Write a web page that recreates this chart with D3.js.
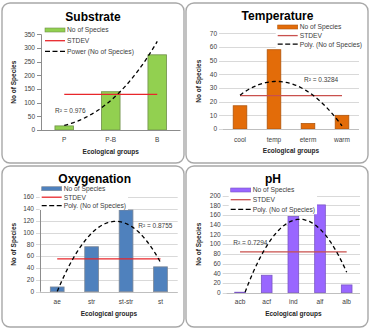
<!DOCTYPE html>
<html>
<head>
<meta charset="utf-8">
<script src="https://cdn.jsdelivr.net/npm/d3@7"></script>
<style>
  body { margin: 0; background: #fff; }
  svg { display: block; font-family: "Liberation Sans", Arial, sans-serif; }
</style>
</head>
<body>
<div id="chart"></div>
<script>
// --- Data ---
const substrateGroups = ["P", "P-B", "B"];
const substrateCounts = [15, 140, 275];

const temperatureGroups = ["cool", "temp", "eterm", "warm"];
const temperatureCounts = [17, 58, 4, 10];

const oxygenGroups = ["ae", "str", "st-str", "st"];
const oxygenCounts = [8, 76, 138, 42];

const phGroups = ["acb", "acf", "ind", "alf", "alb"];
const phCounts = [1, 36, 157, 181, 16];

const r2Labels = ["R² = 0.976", "R² = 0.3284", "R² = 0.8755", "R² = 0.7294"];
const trendNames = ["Power (No of Species)", "Poly. (No of Species)", "Poly. (No of Species)", "Poly. (No of Species)"];

// --- Helpers ---
function sampleStdev(v) {
    const m = d3.mean(v);
    return Math.sqrt(d3.sum(v, d => (d - m) ** 2) / (v.length - 1));
}

// least squares y = c0 + c1 x + c2 x^2, x = 1..n
function quadFit(v) {
    const xs = v.map((d, i) => i + 1);
    const S = k => d3.sum(xs, x => x ** k);
    const T = k => d3.sum(xs, (x, i) => v[i] * x ** k);
    const A = [[S(0), S(1), S(2)], [S(1), S(2), S(3)], [S(2), S(3), S(4)]];
    const b = [T(0), T(1), T(2)];
    // gaussian elimination
    for (let i = 0; i < 3; i++) {
        for (let j = i + 1; j < 3; j++) {
            const f = A[j][i] / A[i][i];
            for (let k = i; k < 3; k++) A[j][k] -= f * A[i][k];
            b[j] -= f * b[i];
        }
    }
    const c = [0, 0, 0];
    for (let i = 2; i >= 0; i--) {
        let s = b[i];
        for (let k = i + 1; k < 3; k++) s -= A[i][k] * c[k];
        c[i] = s / A[i][i];
    }
    return x => c[0] + c[1] * x + c[2] * x * x;
}

// y = a x^b fitted in log space
function powerFit(v) {
    const lx = v.map((d, i) => Math.log(i + 1));
    const ly = v.map(d => Math.log(d));
    const mx = d3.mean(lx), my = d3.mean(ly);
    const b = d3.sum(lx, (x, i) => (x - mx) * (ly[i] - my)) / d3.sum(lx, x => (x - mx) ** 2);
    const a = Math.exp(my - b * mx);
    return x => a * Math.pow(x, b);
}

// --- Panels ---
const panels = [
    {
        title: "Substrate", groups: substrateGroups, counts: substrateCounts, yMax: 350, yStep: 50,
        fill: "#92d050", stroke: "#6f8f4a", stdevColor: "#e8262b", fit: powerFit,
        trendName: trendNames[0], r2: r2Labels[0],
        box: [2, 3, 182, 160], plot: { left: 41, right: 180.5, top: 34.3, bottom: 130 },
        titlePos: [93, 20.5], legendPos: [45, 30], legendStep: 10.7, r2Pos: [55, 113],
        yTitleX: 13.3, xTickY: 141.7, xTitleY: 154, grid: false, yAxisLine: true
    },
    {
        title: "Temperature", groups: temperatureGroups, counts: temperatureCounts, yMax: 70, yStep: 10,
        fill: "#e36c09", stroke: "#b0560d", stdevColor: "#c9504d", fit: quadFit,
        trendName: trendNames[1], r2: r2Labels[1],
        box: [186, 3, 182, 160], plot: { left: 223, right: 359, top: 33.3, bottom: 129 },
        titlePos: [277.5, 20], legendPos: [277.7, 27], legendStep: 8.6, r2Pos: [304, 82.3],
        yTitleX: 198.3, xTickY: 141.5, xTitleY: 153, grid: true, yAxisLine: false
    },
    {
        title: "Oxygenation", groups: oxygenGroups, counts: oxygenCounts, yMax: 160, yStep: 20,
        fill: "#4f81bd", stroke: "#7c8796", stdevColor: "#e8262b", fit: quadFit,
        trendName: trendNames[2], r2: r2Labels[2],
        box: [2, 166, 182, 161], plot: { left: 40, right: 177.7, top: 197, bottom: 291.7 },
        titlePos: [94.7, 183.3], legendPos: [41.7, 188.7], legendStep: 8.5, r2Pos: [138.3, 228.3],
        yTitleX: 13.3, xTickY: 303.7, xTitleY: 315.7, grid: true, yAxisLine: true
    },
    {
        title: "pH", groups: phGroups, counts: phCounts, yMax: 200, yStep: 20,
        fill: "#9966ff", stroke: "#7a56c4", stdevColor: "#c9504d", fit: quadFit,
        trendName: trendNames[3], r2: r2Labels[3],
        box: [186, 166, 182, 161], plot: { left: 226.7, right: 360, top: 195.7, bottom: 292.7 },
        titlePos: [273, 183], legendPos: [230.7, 190], legendStep: 9.7, r2Pos: [233.3, 245],
        yTitleX: 198.3, xTickY: 303.5, xTitleY: 315.7, grid: true, yAxisLine: false
    }
];

const svg = d3.select("#chart").append("svg")
    .attr("width", 370)
    .attr("height", 330);

panels.forEach((p, idx) => drawPanel(p, idx));

function drawPanel(p, idx) {
    const g = svg.append("g");
    const [bx, by, bw, bh] = p.box;

    g.append("rect")
        .attr("x", bx).attr("y", by)
        .attr("width", bw).attr("height", bh)
        .attr("rx", 8)
        .attr("fill", "#fff")
        .attr("stroke", "#a8a8a8")
        .attr("stroke-width", 1.4);

    const x = d3.scaleBand()
        .domain(p.groups)
        .range([p.plot.left, p.plot.right])
        .paddingInner(0.6)
        .paddingOuter(0.3);

    const y = d3.scaleLinear()
        .domain([0, p.yMax])
        .range([p.plot.bottom, p.plot.top]);

    const ticks = d3.range(0, p.yMax + 1e-9, p.yStep);

    // gridlines + y ticks
    if (p.grid) {
        g.append("g").selectAll("line")
            .data(ticks)
            .join("line")
            .attr("x1", p.plot.left - 4)
            .attr("x2", p.plot.right)
            .attr("y1", d => Math.round(y(d)) + 0.5)
            .attr("y2", d => Math.round(y(d)) + 0.5)
            .attr("stroke", "#d9d9d9")
            .attr("stroke-width", 1);
    } else {
        g.append("g").selectAll("line")
            .data(ticks)
            .join("line")
            .attr("x1", p.plot.left - 4)
            .attr("x2", p.plot.left)
            .attr("y1", d => Math.round(y(d)) + 0.5)
            .attr("y2", d => Math.round(y(d)) + 0.5)
            .attr("stroke", "#8c8c8c");
    }

    g.append("g").selectAll("text")
        .data(ticks)
        .join("text")
        .attr("x", p.plot.left - 6)
        .attr("y", d => y(d))
        .attr("dy", "0.35em")
        .attr("text-anchor", "end")
        .attr("font-size", 6.5)
        .attr("fill", "#404040")
        .text(d => d);

    if (p.yAxisLine) {
        g.append("line")
            .attr("x1", p.plot.left + 0.5).attr("x2", p.plot.left + 0.5)
            .attr("y1", p.plot.top).attr("y2", p.plot.bottom)
            .attr("stroke", "#8c8c8c");
    }

    // bars
    g.append("g").selectAll("rect")
        .data(p.counts)
        .join("rect")
        .attr("x", (d, i) => x(p.groups[i]))
        .attr("y", d => y(d))
        .attr("width", x.bandwidth())
        .attr("height", d => y(0) - y(d))
        .attr("fill", p.fill)
        .attr("stroke", p.stroke)
        .attr("stroke-width", 0.8);

    // x axis line
    g.append("line")
        .attr("x1", p.plot.left).attr("x2", p.plot.right)
        .attr("y1", Math.round(y(0)) + 0.5).attr("y2", Math.round(y(0)) + 0.5)
        .attr("stroke", p.grid ? "#bfbfbf" : "#8c8c8c");

    const cx = i => x(p.groups[i]) + x.bandwidth() / 2;

    // STDEV line across category centres
    const sd = sampleStdev(p.counts);
    g.append("line")
        .attr("x1", cx(0)).attr("x2", cx(p.groups.length - 1))
        .attr("y1", y(sd)).attr("y2", y(sd))
        .attr("stroke", p.stdevColor)
        .attr("stroke-width", 1.3);

    // trend curve, clipped to the plot area
    const clipId = "clip" + idx;
    g.append("clipPath").attr("id", clipId)
        .append("rect")
        .attr("x", p.plot.left).attr("y", p.plot.top - 10)
        .attr("width", p.plot.right - p.plot.left)
        .attr("height", p.plot.bottom - p.plot.top + 10);

    const f = p.fit(p.counts);
    const n = p.groups.length;
    const xPos = d3.scaleLinear().domain([1, n]).range([cx(0), cx(n - 1)]);
    const pts = d3.range(1, n + 1e-9, 0.05);
    g.append("path")
        .attr("clip-path", `url(#${clipId})`)
        .datum(pts)
        .attr("d", d3.line().x(t => xPos(t)).y(t => y(Math.max(f(t), -5))))
        .attr("fill", "none")
        .attr("stroke", "#000")
        .attr("stroke-width", 1.3)
        .attr("stroke-dasharray", "4,3");

    // x tick labels
    g.append("g").selectAll("text")
        .data(p.groups)
        .join("text")
        .attr("x", (d, i) => cx(i))
        .attr("y", p.xTickY)
        .attr("text-anchor", "middle")
        .attr("font-size", 6.5)
        .attr("fill", "#404040")
        .text(d => d);

    // axis titles
    g.append("text")
        .attr("x", (p.plot.left + p.plot.right) / 2)
        .attr("y", p.xTitleY)
        .attr("text-anchor", "middle")
        .attr("font-size", 6.5)
        .attr("font-weight", "bold")
        .attr("fill", "#262626")
        .text("Ecological groups");

    g.append("text")
        .attr("transform", `translate(${p.yTitleX},${(p.plot.top + p.plot.bottom) / 2}) rotate(-90)`)
        .attr("dy", "0.35em")
        .attr("text-anchor", "middle")
        .attr("font-size", 6.5)
        .attr("font-weight", "bold")
        .attr("fill", "#262626")
        .text("No of Species");

    // R² label
    g.append("text")
        .attr("x", p.r2Pos[0])
        .attr("y", p.r2Pos[1])
        .attr("font-size", 6.5)
        .attr("fill", "#404040")
        .text(p.r2);

    // legend
    const [lx, ly] = p.legendPos;
    const step = p.legendStep;
    const lg = g.append("g");
    const bg = lg.append("rect").attr("fill", "#fff");
    const items = ["No of Species", "STDEV", p.trendName];
    items.forEach((label, i) => {
        const yy = ly + i * step;
        if (i === 0) {
            lg.append("rect")
                .attr("x", lx).attr("y", yy - 2)
                .attr("width", 20).attr("height", 4)
                .attr("fill", p.fill)
                .attr("stroke", p.stroke)
                .attr("stroke-width", 0.6);
        } else if (i === 1) {
            lg.append("line")
                .attr("x1", lx).attr("x2", lx + 20)
                .attr("y1", yy).attr("y2", yy)
                .attr("stroke", p.stdevColor)
                .attr("stroke-width", 1.3);
        } else {
            lg.append("line")
                .attr("x1", lx).attr("x2", lx + 20)
                .attr("y1", yy).attr("y2", yy)
                .attr("stroke", "#000")
                .attr("stroke-width", 1.3)
                .attr("stroke-dasharray", "5,2.5");
        }
        lg.append("text")
            .attr("class", "lg-text")
            .attr("x", lx + 22)
            .attr("y", yy)
            .attr("dy", "0.35em")
            .attr("font-size", 6.7)
            .attr("fill", "#404040")
            .text(label);
    });
    const textW = d3.max(lg.selectAll(".lg-text").nodes(), nd => nd.getComputedTextLength());
    bg.attr("x", lx - 2).attr("y", ly - step / 2)
        .attr("width", 24 + textW + 2)
        .attr("height", step * 3);

    // chart title, drawn last so the legend box never hides it
    g.append("text")
        .attr("x", p.titlePos[0])
        .attr("y", p.titlePos[1])
        .attr("text-anchor", "middle")
        .attr("font-size", 12)
        .attr("font-weight", "bold")
        .attr("fill", "#000")
        .text(p.title);
}
</script>
</body>
</html>
